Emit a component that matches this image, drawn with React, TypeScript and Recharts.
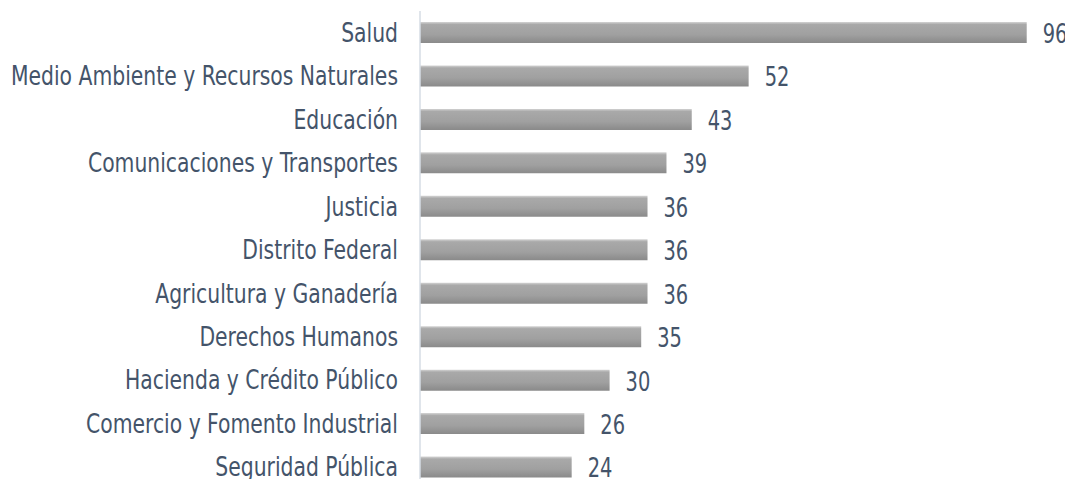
import { BarChart, Bar, XAxis, YAxis, LabelList } from "recharts";

// Categories and counts, top to bottom
const categories = [
  "Salud",
  "Medio Ambiente y Recursos Naturales",
  "Educación",
  "Comunicaciones y Transportes",
  "Justicia",
  "Distrito Federal",
  "Agricultura y Ganadería",
  "Derechos Humanos",
  "Hacienda y Crédito Público",
  "Comercio y Fomento Industrial",
  "Seguridad Pública",
];
const counts = [96, 52, 43, 39, 36, 36, 36, 35, 30, 26, 24];

const data = categories.map((name, i) => ({ name, value: counts[i] }));

const TEXT = "#44546A";
const FONT = "'DejaVu Sans Condensed', 'DejaVu Sans', sans-serif";

// text squeezed horizontally around its anchor point (the original uses a narrow face)
function NarrowText({ x, y, anchor, size, squeeze, children }: any) {
  return (
    <text
      x={x}
      y={y}
      textAnchor={anchor}
      dominantBaseline="central"
      fill={TEXT}
      fontSize={size}
      fontFamily={FONT}
      transform={`translate(${x} ${y}) scale(${squeeze} 1) translate(${-x} ${-y})`}
    >
      {children}
    </text>
  );
}

function CategoryTick({ x, y, payload }: any) {
  return (
    <NarrowText x={x} y={y} anchor="end" size={26} squeeze={0.87}>
      {payload.value}
    </NarrowText>
  );
}

function ValueLabel({ x, y, width, height, value }: any) {
  return (
    <NarrowText x={x + width + 16} y={y + height / 2 + 1} anchor="start" size={27} squeeze={0.8}>
      {value}
    </NarrowText>
  );
}

export default function App() {
  return (
    <BarChart
      width={1065}
      height={486}
      data={data}
      layout="vertical"
      margin={{ top: 3, right: 21, left: 0, bottom: 5 }}
      barSize={21}
    >
      <defs>
        <linearGradient id="barGrad" x1="0" y1="0" x2="0" y2="1">
          <stop offset="0%" stopColor="#D4D4D4" />
          <stop offset="12%" stopColor="#A9A9A9" />
          <stop offset="60%" stopColor="#A0A0A0" />
          <stop offset="100%" stopColor="#8A8A8A" />
        </linearGradient>
      </defs>
      <XAxis type="number" domain={[0, 100]} hide />
      <YAxis
        type="category"
        dataKey="name"
        width={412}
        axisLine={{ stroke: "#D6DCE5", strokeWidth: 1.5 }}
        tickLine={false}
        tickSize={6}
        tickMargin={16}
        interval={0}
        tick={<CategoryTick />}
      />
      <Bar dataKey="value" fill="url(#barGrad)" isAnimationActive={false}>
        <LabelList dataKey="value" content={<ValueLabel />} />
      </Bar>
    </BarChart>
  );
}
